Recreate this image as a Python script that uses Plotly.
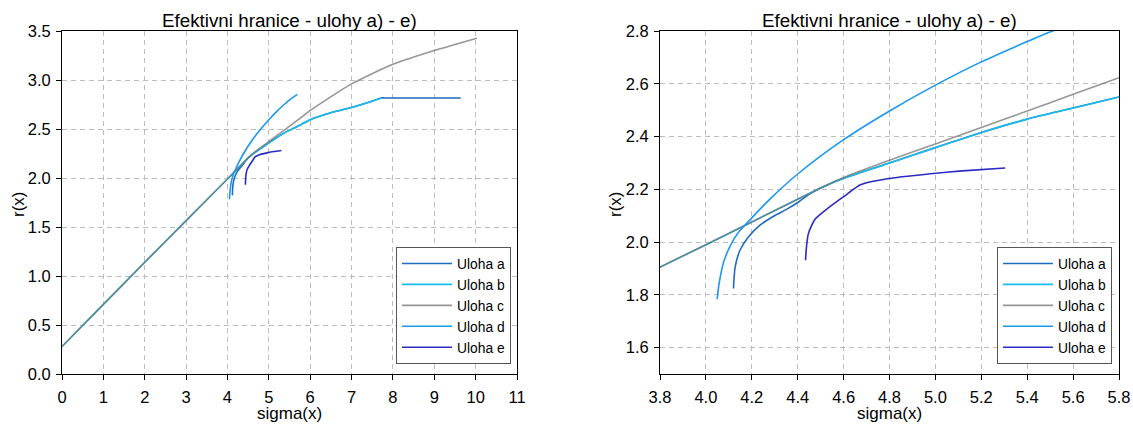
import plotly.graph_objects as go

# ---------------- data ----------------
series_names = ["Uloha a", "Uloha b", "Uloha c", "Uloha d", "Uloha e"]

sigma_a = [4.120, 4.1275, 4.149, 4.186, 4.237, 4.295, 4.353, 4.404, 4.45, 4.5, 4.6, 4.8,
           5.0, 5.2, 5.4, 5.6, 5.8, 6.0, 6.5, 7.0, 7.4, 7.72, 7.8, 9.64]
r_a = [1.824, 1.906, 1.970, 2.020, 2.065, 2.098, 2.125, 2.152, 2.181, 2.205, 2.242, 2.300,
       2.358, 2.415, 2.466, 2.508, 2.550, 2.595, 2.665, 2.720, 2.770, 2.817, 2.817, 2.817]

sigma_b = [0.0, 1.0, 2.0, 3.0, 4.0, 4.5, 4.6, 4.8, 5.0, 5.2, 5.4, 5.6, 5.8, 6.0,
           6.5, 7.0, 7.4, 7.72]
r_b = [0.280, 0.710, 1.140, 1.565, 1.990, 2.205, 2.242, 2.300, 2.358, 2.415, 2.466,
       2.508, 2.550, 2.595, 2.665, 2.720, 2.770, 2.817]

sigma_c = [0.0, 1.0, 2.0, 3.0, 4.0, 4.5, 4.6, 4.8, 5.0, 5.2, 5.4, 5.6, 5.8, 6.0,
           7.0, 8.0, 9.0, 10.03]
r_c = [0.280, 0.710, 1.140, 1.565, 1.990, 2.205, 2.245, 2.310, 2.372, 2.434, 2.497,
       2.560, 2.623, 2.690, 2.960, 3.160, 3.300, 3.426]

sigma_d = [4.049, 4.058, 4.077, 4.106, 4.142, 4.179, 4.237, 4.280, 4.4, 4.6, 4.8,
           5.0, 5.2, 5.4, 5.51, 5.69]
r_d = [1.784, 1.845, 1.923, 1.986, 2.037, 2.072, 2.126, 2.164, 2.258, 2.388, 2.497,
       2.595, 2.683, 2.760, 2.800, 2.853]

sigma_e = [4.434, 4.438, 4.446, 4.462, 4.478, 4.528, 4.603, 4.673, 4.79, 4.979,
           5.117, 5.304]
r_e = [1.931, 1.980, 2.030, 2.065, 2.089, 2.126, 2.174, 2.217, 2.240, 2.259,
       2.270, 2.281]

left_xticks = [0, 1, 2, 3, 4, 5, 6, 7, 8, 9, 10, 11]
left_yticks = [0.0, 0.5, 1.0, 1.5, 2.0, 2.5, 3.0, 3.5]
right_xticks = [3.8, 4.0, 4.2, 4.4, 4.6, 4.8, 5.0, 5.2, 5.4, 5.6, 5.8]
right_yticks = [1.6, 1.8, 2.0, 2.2, 2.4, 2.6, 2.8]

title_text = "Efektivni hranice - ulohy a) - e)"
x_label = "sigma(x)"
y_label = "r(x)"

# ---------------- styling ----------------
colors = ["#1f6bbf", "#18bdee", "rgba(115,115,115,0.75)", "#1b98ee", "#2b2bc4"]
smooth = [0.6, 0.6, 0.6, 0.8, 0.5]
xs = [sigma_a, sigma_b, sigma_c, sigma_d, sigma_e]
ys = [r_a, r_b, r_c, r_d, r_e]
FONT = "Liberation Sans, Arial, Helvetica, sans-serif"

fig = go.Figure()
for sub, (xa, ya, leg) in enumerate([("x", "y", "legend"), ("x2", "y2", "legend2")]):
    for name, x, y, c, s in zip(series_names, xs, ys, colors, smooth):
        fig.add_trace(go.Scatter(
            x=x, y=y, mode="lines", name=name,
            line=dict(color=c, width=1.6, shape="spline", smoothing=s),
            xaxis=xa, yaxis=ya, legend=leg, showlegend=True,
        ))

W, H = 1133, 427
L1, R1 = 62, 517
L2, R2 = 660, 1119
TOP, BOT = 31, 374

axis_common = dict(
    showline=True, linecolor="black", linewidth=1, mirror=True,
    ticks="outside", ticklen=5, tickcolor="black", tickwidth=1,
    showgrid=True, gridcolor="#bdbdbd", gridwidth=1, griddash="5px,4px",
    zeroline=False, automargin=False,
    tickfont=dict(family=FONT, size=16.5, color="black"),
)

legend_common = dict(
    bgcolor="white", bordercolor="#555555", borderwidth=1,
    font=dict(family=FONT, size=13.8, color="black"),
    xanchor="right", yanchor="bottom", tracegroupgap=0,
    itemclick=False, itemdoubleclick=False, itemwidth=50,
)

fig.update_layout(
    width=W, height=H,
    margin=dict(l=0, r=0, t=TOP, b=H - BOT, autoexpand=False),
    paper_bgcolor="white", plot_bgcolor="white",
    font=dict(family=FONT, size=16, color="black"),
    xaxis=dict(domain=[L1 / W, R1 / W], range=[0, 11], tickvals=left_xticks,
               ticktext=[str(v) for v in left_xticks], anchor="y",
               ticklabelstandoff=3, **axis_common),
    yaxis=dict(domain=[0, 1], range=[0, 3.5], tickvals=left_yticks,
               ticktext=[f"{v:.1f}" for v in left_yticks], anchor="x",
               ticklabelstandoff=2, **axis_common),
    xaxis2=dict(domain=[L2 / W, R2 / W], range=[3.8, 5.8], tickvals=right_xticks,
                ticktext=[f"{v:.1f}" for v in right_xticks], anchor="y2",
                ticklabelstandoff=3, **axis_common),
    yaxis2=dict(domain=[0, 1], range=[1.5, 2.8], tickvals=right_yticks,
                ticktext=[f"{v:.1f}" for v in right_yticks], anchor="x2",
                ticklabelstandoff=2, **axis_common),
    legend=dict(x=511 / W, y=(BOT - 364) / (BOT - TOP), **legend_common),
    legend2=dict(x=1112 / W, y=(BOT - 364) / (BOT - TOP), **legend_common),
)

annotations = []
for (l, r, ylab_x) in [(L1, R1, 18), (L2, R2, 615)]:
    annotations.append(dict(text=title_text, x=(l + r) / 2 / W, y=1, xref="paper", yref="paper",
                            xanchor="center", yanchor="bottom", showarrow=False, yshift=-2,
                            font=dict(family=FONT, size=18.8, color="black")))
    annotations.append(dict(text=x_label, x=(l + r) / 2 / W, y=(BOT - 413) / (BOT - TOP),
                            xref="paper", yref="paper", xanchor="center", yanchor="middle",
                            showarrow=False, font=dict(family=FONT, size=17, color="black")))
    annotations.append(dict(text=y_label, x=ylab_x / W, y=(BOT - 205) / (BOT - TOP),
                            xref="paper", yref="paper", xanchor="center", yanchor="middle",
                            textangle=-90, showarrow=False,
                            font=dict(family=FONT, size=17, color="black")))
fig.update_layout(annotations=annotations)

fig.write_html(
    "out.html",
    config={"displayModeBar": False},
    post_script="document.body.style.margin='0';document.body.style.overflow='hidden';",
)
